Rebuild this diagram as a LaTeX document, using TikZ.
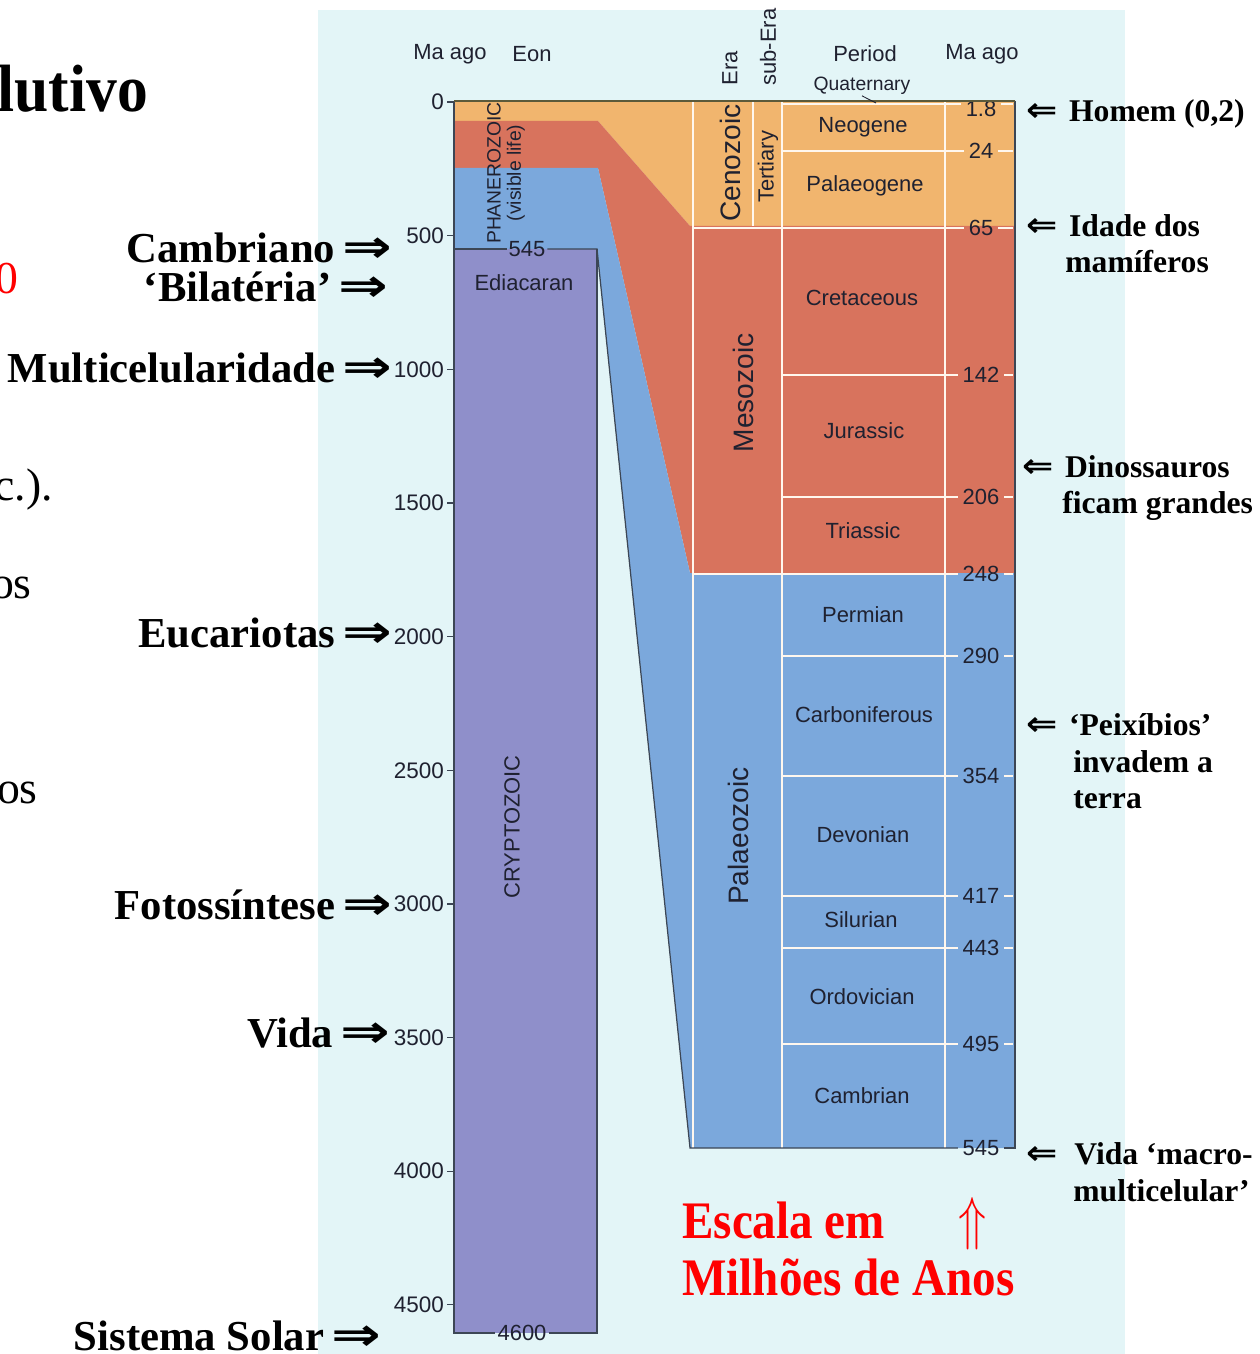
\documentclass[tikz,border=0pt]{standalone}
\usepackage{fontspec}
\setmainfont{Liberation Serif}
\setsansfont{Liberation Sans}
\newfontfamily\arrfont{DejaVu Sans}
\definecolor{bgc}{HTML}{E3F5F7}
\definecolor{cenoc}{HTML}{F1B56E}
\definecolor{mesoc}{HTML}{D8735D}
\definecolor{palc}{HTML}{7BA8DC}
\definecolor{crypc}{HTML}{8F8FCA}
\definecolor{ink}{HTML}{1F2130}
\definecolor{edgec}{HTML}{3C4655}
\definecolor{topl}{HTML}{5C5A3A}
\definecolor{sepc}{HTML}{FFF7EE}
\newcommand{\rarr}{\hspace{0.18em}{\arrfont\bfseries\fontsize{26}{28}\selectfont\scalebox{1.3}[1]{⇒}}}
\newcommand{\larr}{{\arrfont\bfseries\fontsize{19}{21}\selectfont\scalebox{1.12}[1]{⇐}}}
\begin{document}
\begin{tikzpicture}[x=0.02cm,y=-0.02cm,
  chart/.style={font=\sffamily\fontsize{12.5}{14}\selectfont,text=ink,inner sep=1pt},
  smalltxt/.style={font=\sffamily\fontsize{11}{11.6}\selectfont,text=ink,inner sep=1pt},
  eralab/.style={font=\sffamily\fontsize{16}{18}\selectfont,text=ink,rotate=90,inner sep=1pt},
  numlab/.style={chart,inner sep=2.5pt},
  sepline/.style={draw=sepc,line width=1.1pt},
  edgeline/.style={draw=edgec,line width=0.7pt},
  lann/.style={font=\bfseries\fontsize{24.3}{28}\selectfont,anchor=base east,inner sep=0pt},
  rann/.style={font=\bfseries\fontsize{18}{21}\selectfont,anchor=base west,inner sep=0pt},
  redtxt/.style={font=\bfseries\fontsize{26.8}{30}\selectfont,text=red,anchor=base west,inner sep=0pt},
  cuttxt/.style={font=\fontsize{26}{30}\selectfont,anchor=base east,inner sep=0pt}
]
\useasboundingbox (0,0) rectangle (1259,1354);
\fill[white] (0,0) rectangle (1259,1354);
\fill[bgc] (318,10) rectangle (1125,1354);

% coloured areas
\fill[cenoc] (454,101) -- (1015,101) -- (1015,226) -- (690,226) -- (598,121) -- (454,121) -- cycle;
\fill[mesoc] (454,121) -- (598,121) -- (690,226) -- (1015,226) -- (1015,573) -- (690,573) -- (598,168) -- (454,168) -- cycle;
\fill[palc] (454,168) -- (598,168) -- (690,573) -- (1015,573) -- (1015,1148) -- (690,1148) -- (597,249) -- (454,249) -- cycle;
\fill[crypc] (454,249) rectangle (597,1333);

% white separators (vertical)
\draw[sepline] (693,101) -- (693,1148);
\draw[sepline] (753,101) -- (753,226);
\draw[sepline] (782,101) -- (782,1148);
\draw[sepline] (945,101) -- (945,1148);

% numbers of the right scale
\node[numlab] (n18) at (981,109) {1.8};
\node[numlab] (n24) at (981,151) {24};
\node[numlab] (n65) at (981,228) {65};
\node[numlab] (n142) at (981,375) {142};
\node[numlab] (n206) at (981,497) {206};
\node[numlab] (n248) at (981,574) {248};
\node[numlab] (n290) at (981,656) {290};
\node[numlab] (n354) at (981,776) {354};
\node[numlab] (n417) at (981,896) {417};
\node[numlab] (n443) at (981,948) {443};
\node[numlab] (n495) at (981,1044) {495};
\node[numlab] (n545) at (981,1148) {545};

\coordinate (y18) at (0,104);
\draw[sepline] (782,104) -- (n18.west |- y18);
\draw[sepline] (n18.east |- y18) -- (1013,104);
\foreach \nn/\xs in {24/782,65/693,142/782,206/782,248/693,290/782,354/782,417/782,443/782,495/782}{
  \draw[sepline] (n\nn.west -| \xs,0) -- (n\nn.west);
  \draw[sepline] (n\nn.east) -- (n\nn.east -| 1013,0);
}

% left column labels on lines
\node[chart] (l545) at (527,249) {545};
\node[chart] (l4600) at (522,1333) {4600};

% dark outlines
\draw[edgeline] (454,101) -- (454,1333) -- (l4600.west);
\draw[edgeline] (l4600.east) -- (597,1333) -- (597,249);
\draw[edgeline] (454,249) -- (l545.west);
\draw[edgeline] (l545.east) -- (597,249) -- (690,1148) -- (n545.west);
\draw[edgeline] (n545.east) -- (1015,1148) -- (1015,101);
\draw[draw=topl,line width=0.9pt] (454,101) -- (1015,101);

% left scale
\foreach \m in {0,500,...,4500}{
  \pgfmathsetmacro\yy{102+0.2673*\m}
  \draw[edgeline] (447,\yy) -- (454,\yy);
  \node[chart,anchor=east,font=\sffamily\fontsize{12.8}{14}\selectfont] (t\m) at (446,\yy) {\m};
}

% headers
\node[chart] (hma1) at (450,54) {Ma ago};
\node[chart] (heon) at (532,54) {Eon};
\node[chart,rotate=90] (hera) at (730,68) {Era};
\node[chart,rotate=90] (hsub) at (768,47) {sub-Era};
\node[chart] (hper) at (865,54) {Period};
\node[chart] (hma2) at (982,54) {Ma ago};
\node[smalltxt] (qua) at (862,86) {Quaternary};
\coordinate (quaend) at (876,103);
\draw[ink,line width=0.5pt] (qua.south) ++(0,-1) -- (quaend);

% eon labels
\node[smalltxt,rotate=90,align=center] (phan) at (506,173) {PHANEROZOIC\\(visible life)};
\node[chart] (edia) at (524,283) {Ediacaran};
\node[chart,rotate=90] (cryp) at (512,827) {CRYPTOZOIC};

% era labels
\node[eralab] (ceno) at (730,163) {Cenozoic};
\node[chart,rotate=90] (tert) at (768,167) {Tertiary};
\node[eralab] (meso) at (743,393) {Mesozoic};
\node[eralab] (pala) at (738,836) {Palaeozoic};

% period labels
\node[chart] (pneo) at (863,127) {Neogene};
\node[chart] (ppal) at (865,186) {Palaeogene};
\node[chart] (pcre) at (862,298) {Cretaceous};
\node[chart] (pjur) at (864,431) {Jurassic};
\node[chart] (ptri) at (863,531) {Triassic};
\node[chart] (pper) at (863,615) {Permian};
\node[chart] (pcar) at (864,715) {Carboniferous};
\node[chart] (pdev) at (863,835) {Devonian};
\node[chart] (psil) at (861,920) {Silurian};
\node[chart] (pord) at (862,997) {Ordovician};
\node[chart] (pcam) at (862,1096) {Cambrian};

% slide text cut at the left edge
\node[font=\bfseries\fontsize{34}{38}\selectfont,anchor=base west,inner sep=0pt] (titl) at (-3,112) {\scalebox{1.03}[1.12]{lutivo}};
\node[cuttxt,text=red] (cut0) at (19,294) {0};
\node[cuttxt] (cutc) at (53,500) {c.).};
\node[cuttxt] (cuto1) at (32,598) {os};
\node[cuttxt] (cuto2) at (38,803) {os};

% left annotations
\node[lann] (acam) at (393,263) {Cambriano\rarr};
\node[lann] (abil) at (389,302) {‘Bilatéria’\rarr};
\node[lann] (amul) at (393,382) {Multicelularidade\rarr};
\node[lann] (aeuc) at (393,647) {Eucariotas\rarr};
\node[lann] (afot) at (393,919) {Fotossíntese\rarr};
\node[lann] (avid) at (391,1047) {Vida\rarr};
\node[lann] (asol) at (382,1350) {Sistema Solar\rarr};

% right annotations
\node[rann] (rhom) at (1026,122) {\larr\hspace{2pt} Homem (0,2)};
\node[rann] (rida1) at (1026,237) {\larr\hspace{2pt} Idade dos};
\node[rann] (rida2) at (1065,273) {mamíferos};
\node[rann] (rdin1) at (1022,477) {\larr\hspace{2pt} Dinossauros};
\node[rann] (rdin2) at (1062,513) {ficam grandes};
\node[rann] (rpei1) at (1026,735) {\larr\hspace{2pt} ‘Peixíbios’};
\node[rann] (rpei2) at (1073,772) {invadem a};
\node[rann] (rpei3) at (1073,808) {terra};
\node[rann] (rvid1) at (1026,1164) {\larr\hspace{5pt} Vida ‘macro-};
\node[rann] (rvid2) at (1073,1201) {multicelular’};

% red scale note
\node[redtxt] (esc1) at (682,1238) {\scalebox{1}[1.12]{Escala em}};
\node[redtxt] (esc2) at (682,1295) {\scalebox{1}[1.12]{Milhões de Anos}};
\node[font=\fontsize{28}{30}\selectfont,text=red,inner sep=0pt] (upar) at (973,1224) {\scalebox{1.05}[1.35]{$\Uparrow$}};
\end{tikzpicture}
\end{document}
